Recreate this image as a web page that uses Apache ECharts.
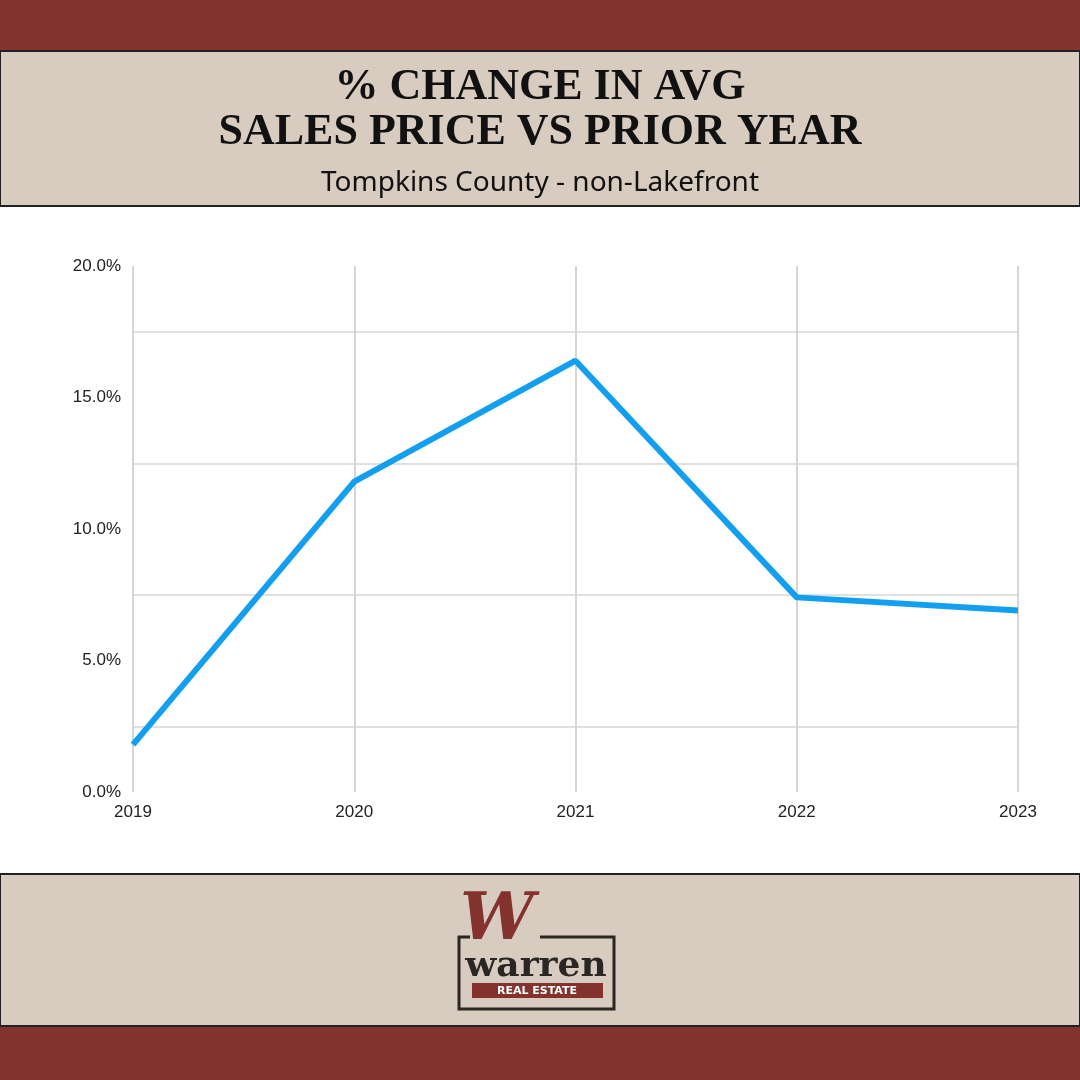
<!DOCTYPE html>
<html><head><meta charset="utf-8">
<script src="https://cdn.jsdelivr.net/npm/echarts@6/dist/echarts.min.js"></script>
<style>html,body{margin:0;padding:0}#c{width:1080px;height:1080px}</style>
</head><body><div id="c"></div>
<script>
const categories = ['2019','2020','2021','2022','2023'];
const values = [1.8, 11.8, 16.4, 7.4, 6.9];
const titleLines = ['% CHANGE IN AVG', 'SALES PRICE VS PRIOR YEAR'];
const subtitle = 'Tompkins County - non-Lakefront';

const chart = echarts.init(document.getElementById('c'));
const red = '#84322d', beige = '#d8cbbf', dark = '#222';
chart.setOption({
  backgroundColor: '#ffffff',
  animation: false,
  graphic: [
    {type:'rect', shape:{x:0,y:0,width:1080,height:51}, style:{fill:red}},
    {type:'rect', shape:{x:0,y:51,width:1080,height:155}, style:{fill:beige, stroke:dark, lineWidth:2}},
    {type:'text', x:540, y:88, style:{text:titleLines[0], fill:'#111', font:'bold 44px "Liberation Serif", serif', align:'center', verticalAlign:'middle'}},
    {type:'text', x:540, y:133, style:{text:titleLines[1], fill:'#111', font:'bold 44px "Liberation Serif", serif', align:'center', verticalAlign:'middle'}},
    {type:'text', x:540, y:183, style:{text:subtitle, fill:'#111', font:'28px "Noto Sans", sans-serif', align:'center', verticalAlign:'middle'}},
    {type:'rect', shape:{x:0,y:874,width:1080,height:152}, style:{fill:beige, stroke:dark, lineWidth:2}},
    {type:'rect', shape:{x:0,y:1027,width:1080,height:53}, style:{fill:red}},
    // logo
    {type:'polyline', shape:{points:[[540,937],[614,937],[614,1009],[459,1009],[459,937],[470,937]]}, style:{stroke:'#2a2624', lineWidth:3, fill:null}},
    {type:'text', x:497, y:922, style:{text:'W', fill:red, font:'bold italic 66px "DejaVu Serif", serif', align:'center', verticalAlign:'middle'}},
    {type:'text', x:536, y:967, style:{text:'warren', fill:'#2a2624', font:'bold 36px "DejaVu Serif", serif', align:'center', verticalAlign:'middle'}},
    {type:'rect', shape:{x:472,y:983,width:131,height:15}, style:{fill:red}},
    {type:'text', x:537, y:991, style:{text:'REAL ESTATE', fill:'#fff', font:'bold 11px "DejaVu Sans", sans-serif', align:'center', verticalAlign:'middle'}}
  ],
  grid: {left:133, right:62, top:266, bottom:288},
  xAxis: {
    type:'category', data:categories, boundaryGap:false,
    axisLine:{show:false}, axisTick:{show:false},
    axisLabel:{color:'#222', fontSize:17, fontFamily:'Liberation Sans, Arial', margin:12},
    splitLine:{show:true, lineStyle:{color:'#d6d6d6', width:2}}
  },
  yAxis: {
    type:'value', min:0, max:20, interval:2.5,
    axisLine:{show:false}, axisTick:{show:false},
    axisLabel:{color:'#222', fontSize:17, fontFamily:'Liberation Sans, Arial', margin:12,
      formatter: v => (v % 5 === 0 ? v.toFixed(1) + '%' : '')},
    splitLine:{show:true, lineStyle:{color:['rgba(0,0,0,0)','#e0e0e0'], width:2}}
  },
  series: [{
    type:'line', data:values, symbol:'none',
    lineStyle:{color:'#139ff0', width:6},
    label:{show:true, position:'top', distance:22, color:'#139ff0', fontSize:17, fontFamily:'Roboto, sans-serif', formatter: p => p.value.toFixed(1) + '%'}
  }]
});
</script></body></html>
